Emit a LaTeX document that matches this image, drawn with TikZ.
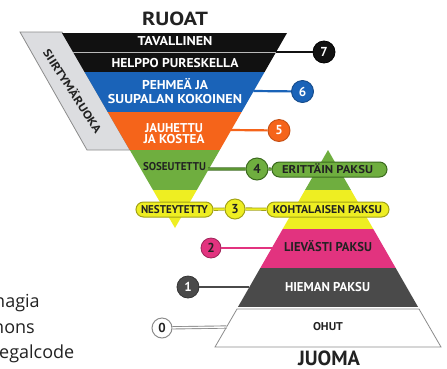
\documentclass[tikz,border=0pt]{standalone}
\usepackage{fontspec}
\setmainfont{PT Sans}
\newfontfamily\credfont{Open Sans}
\definecolor{cblack}{HTML}{111111}
\definecolor{cblue}{HTML}{1A63B8}
\definecolor{corange}{HTML}{F5641A}
\definecolor{cgreen}{HTML}{6FAE3F}
\definecolor{cdgreen}{HTML}{3B6A1E}
\definecolor{cyellow}{HTML}{EEEE22}
\definecolor{colive}{HTML}{A3A315}
\definecolor{cpink}{HTML}{E2337F}
\definecolor{cdgray}{HTML}{4A4A4A}
\definecolor{cband}{HTML}{DCDDE0}
\definecolor{cline}{HTML}{8C8C8C}
\definecolor{ctext}{HTML}{222222}
\newcommand{\fw}[2]{\resizebox{#1}{\height}{#2}}
\begin{document}
\begin{tikzpicture}[x=1pt,y=-1pt,
  wlbl/.style={font=\bfseries\fontsize{12.8}{13}\selectfont, text=white, inner sep=0, anchor=base},
  dlbl/.style={font=\bfseries\fontsize{11.3}{12}\selectfont, text=ctext, inner sep=0, anchor=base},
  numc/.style={circle, minimum size=22pt, inner sep=0, font=\bfseries\fontsize{13}{13}\selectfont},
  pill/.style={rounded corners=7.5pt, minimum height=15pt, inner sep=0, line width=1pt},
  title/.style={font=\bfseries\fontsize{19}{20}\selectfont, text=ctext, inner sep=0, anchor=base},
  cred/.style={font=\credfont\fontsize{18}{18}\selectfont, text=ctext, inner sep=0, anchor=base west},
  conn/.style={line width=2.2pt}
]
\useasboundingbox (0,0) rectangle (447,368);
\fill[white] (0,0) rectangle (447,368);

% credit fragments
\node[cred] (c1) at (-6,307) {nagia};
\node[cred] (c2) at (-7,333) {nons};
\node[cred] (c3) at (-1,358) {egalcode};

% titles
\node[title] (ruoat) at (175,25) {\fw{66pt}{RUOAT}};
\node[title, font=\bfseries\fontsize{20.5}{21}\selectfont] (juoma) at (329,365.5) {\fw{62pt}{JUOMA}};

% transition band
\draw[cline, fill=cband, line width=0.8pt] (20,32) -- (62,32) -- (130,150) -- (87,150) -- cycle;
\node[dlbl, anchor=center, rotate=-57] (siirty) at (73,91) {\fw{97pt}{SIIRTYMÄRUOKA}};

% connector edge points
\coordinate (e7) at (276,52);
\coordinate (e6) at (253.4,91);
\coordinate (e5) at (230.8,130);
\coordinate (e4) at (208.2,169);
\coordinate (e2) at (271.8,248);
\coordinate (e1) at (249.4,287);
\coordinate (e0) at (226.5,327);

% inverted triangle (foods)
\begin{scope}
\clip (62,33) -- (287,33) -- (175,228) -- cycle;
\fill[cblack] (0,33) rectangle (447,72);
\draw[cline!60, line width=1pt] (0,52) -- (447,52);
\fill[cblue] (0,72) rectangle (447,111.5);
\fill[corange] (0,111.5) rectangle (447,150);
\fill[cgreen] (0,150) rectangle (447,190);
\fill[cyellow] (0,190) rectangle (447,229);
\end{scope}

% upright triangle (drinks)
\begin{scope}
\clip (328,150) -- (441,347) -- (215,347) -- cycle;
\fill[cgreen] (0,150) rectangle (447,190);
\fill[cyellow] (0,190) rectangle (447,229);
\fill[cpink] (0,229) rectangle (447,268);
\fill[cdgray] (0,268) rectangle (447,307);
\end{scope}
\draw[cline, fill=white, line width=0.8pt] (237,309) -- (419,309) -- (441,347) -- (215,347) -- cycle;

% food labels
\node[wlbl] (t7a) at (175,45.7) {\fw{75pt}{TAVALLINEN}};
\node[wlbl] (t7b) at (175,67) {\fw{127pt}{HELPPO PURESKELLA}};
\node[wlbl] (t6a) at (175,89) {\fw{66pt}{PEHMEÄ JA}};
\node[wlbl] (t6b) at (175,103.5) {\fw{134pt}{SUUPALAN KOKOINEN}};
\node[wlbl] (t5a) at (174,132) {\fw{58pt}{JAUHETTU}};
\node[wlbl] (t5b) at (174,143) {\fw{61pt}{JA KOSTEA}};
\node[dlbl] (t4) at (174.5,170) {\fw{63pt}{SOSEUTETTU}};

% drink labels
\node[wlbl, text=ctext] (d2) at (328,251.5) {\fw{88pt}{LIEVÄSTI PAKSU}};
\node[wlbl] (d1) at (327.5,291) {\fw{85pt}{HIEMAN PAKSU}};
\node[dlbl] (d0) at (328,330) {\fw{30pt}{OHUT}};

% number circles
\node[numc, fill=cblack, draw=black, line width=0.8pt, text=white] (n7) at (324,52) {7};
\node[numc, fill=cblue, draw=cblue!75!black, line width=0.9pt, text=white] (n6) at (302.5,91.5) {6};
\node[numc, fill=corange, draw=corange!80!black, line width=0.9pt, text=white] (n5) at (279,130.5) {5};
\node[numc, fill=cgreen, draw=cdgreen, line width=1pt, text=ctext] (n4) at (257,169) {4};
\node[numc, minimum size=20pt, fill=cyellow, draw=colive, line width=1pt, text=ctext] (n3) at (235,209) {3};
\node[numc, minimum size=20pt, fill=cpink, draw=cpink!70!black, line width=0.8pt, text=ctext] (n2) at (211,248) {2};
\node[numc, fill=cdgray, draw=cdgray!70!black, line width=0.8pt, text=white] (n1) at (188,287) {1};
\node[numc, minimum size=20pt, fill=white, draw=cline, line width=1pt, text=ctext] (n0) at (162,328) {0};

% pills
\node[pill, fill=cgreen, draw=cdgreen, minimum width=115pt] (p4) at (329.5,169.5) {};
\node[pill, fill=cyellow, draw=colive, minimum width=122pt] (p3r) at (328,209.5) {};
\node[pill, fill=cyellow, draw=colive, minimum width=77pt] (p3l) at (174.5,209.5) {};
\node[dlbl] (p4t) at (327.5,173) {\fw{91pt}{ERITTÄIN PAKSU}};
\node[dlbl] (p3rt) at (327.5,213) {\fw{109pt}{KOHTALAISEN PAKSU}};
\node[dlbl] (p3lt) at (174.5,213) {\fw{67pt}{NESTEYTETTY}};

% connectors
\draw[conn, cblack] (e7) -- (n7);
\draw[conn, cblue] (e6) -- (n6);
\draw[conn, corange] (e5) -- (n5);
\draw[line width=3.2pt, cdgreen] (e4) -- (n4) (n4) -- (p4);
\draw[line width=1.4pt, cgreen] (e4) -- (n4) (n4) -- (p4);
\draw[line width=3.2pt, colive] (p3l) -- (n3) (n3) -- (p3r);
\draw[line width=1.4pt, cyellow] (p3l) -- (n3) (n3) -- (p3r);
\draw[conn, cpink] (n2) -- (e2);
\draw[conn, cdgray] (n1) -- (e1);
\draw[line width=3.2pt, cline] (n0) -- (e0);
\draw[line width=1.4pt, white] (n0) -- (e0);
\end{tikzpicture}
\end{document}
